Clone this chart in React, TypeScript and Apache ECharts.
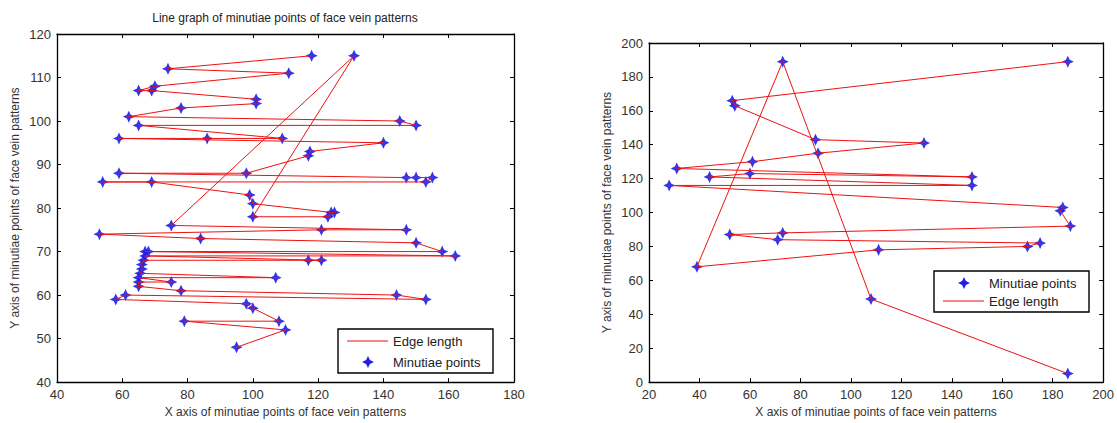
import React, { useEffect, useRef } from "react";
import * as echarts from "echarts";

// Left chart: minutiae points in path order
const leftX = [118, 74, 111, 70, 65, 69, 101, 101, 78, 62, 145, 150, 65, 109, 86, 59, 140, 117.5, 117, 98, 59, 147, 150, 155, 153, 54, 69, 99, 100, 124, 125, 123, 100, 131, 75, 147, 121, 53, 84, 150, 158, 67, 68, 162, 67, 121, 117, 66.5, 66, 66, 65.5, 107, 65, 75, 65, 65, 78, 144, 153, 61, 58, 98, 100, 108, 79, 110, 95];
const leftY = [115, 112, 111, 108, 107, 107, 105, 104, 103, 101, 100, 99, 99, 96, 96, 96, 95, 93, 92, 88, 88, 87, 87, 87, 86, 86, 86, 83, 81, 79, 79, 78, 78, 115, 76, 75, 75, 74, 73, 72, 70, 70, 70, 69, 69, 68, 68, 68, 67, 66, 65, 64, 64, 63, 63, 62, 61, 60, 59, 60, 59, 58, 57, 54, 54, 52, 48];

// Right chart: minutiae points in path order
const rightX = [186, 53, 54, 86, 129, 87, 61, 31, 148, 60, 44, 148, 28, 184, 183, 187, 73, 52, 71, 175, 170, 111, 39, 73, 108, 186];
const rightY = [189, 166, 163, 143, 141, 135, 130, 126, 121, 123, 121, 116, 116, 103, 101, 92, 88, 87, 84, 82, 80, 78, 68, 189, 49, 5];

// Axis ranges [min, max, interval]
const leftXRange = [40, 180, 20];
const leftYRange = [40, 120, 10];
const rightXRange = [20, 200, 20];
const rightYRange = [0, 200, 20];

const titleText = "Line graph of minutiae points of face vein patterns";
const xName = "X axis of minutiae points of face vein patterns";
const yName = "Y axis of minutiae points of face vein patterns";
const lineName = "Edge length";
const pointName = "Minutiae points";

// Legend entry order for each panel
const leftLegend = [lineName, pointName];
const rightLegend = [pointName, lineName];

const FONT = "Arial, 'Liberation Sans', sans-serif";
const RED = "#ee1111";
const BLUE = "#1f1fe6";
const STAR = "path://M0,-10L3.2,-3.2L10,0L3.2,3.2L0,10L-3.2,3.2L-10,0L-3.2,-3.2Z";

function zip(xs: number[], ys: number[]) {
  return xs.map((x, i) => [x, ys[i]]);
}

function starPoints(cx: number, cy: number, r: number) {
  const k = r * 0.32;
  return [
    [cx, cy - r], [cx + k, cy - k], [cx + r, cy], [cx + k, cy + k],
    [cx, cy + r], [cx - k, cy + k], [cx - r, cy], [cx - k, cy - k],
  ];
}

function axis(gridIndex: number, position: string, range: number[], showLabel: boolean, extra: any = {}) {
  return {
    type: "value",
    gridIndex,
    position,
    min: range[0],
    max: range[1],
    interval: range[2],
    axisLine: { show: true, onZero: false, lineStyle: { color: "#000", width: 1.3 } },
    axisTick: { show: true, inside: true, length: 4, lineStyle: { color: "#000", width: 1 } },
    axisLabel: { show: showLabel, color: "#333", fontSize: 13, fontFamily: FONT, margin: 6 },
    splitLine: { show: false },
    ...extra,
  };
}

const nameStyle = { color: "#333", fontSize: 12, fontFamily: FONT };

function legendBox(x: number, y: number, w: number, h: number, names: string[], rowGap: number) {
  const children: any[] = [
    {
      type: "rect",
      shape: { x, y, width: w, height: h },
      style: { fill: "#fff", stroke: "#000", lineWidth: 1.4 },
    },
  ];
  names.forEach((n, i) => {
    const cy = y + 12 + i * rowGap;
    if (n === lineName) {
      children.push({
        type: "line",
        shape: { x1: x + 9, y1: cy, x2: x + 50, y2: cy },
        style: { stroke: RED, lineWidth: 1.2 },
      });
    } else {
      children.push({
        type: "polygon",
        shape: { points: starPoints(x + 30, cy, 6) },
        style: { fill: BLUE },
      });
    }
    children.push({
      type: "text",
      x: x + 55,
      y: cy,
      style: {
        text: n,
        fill: "#222",
        fontSize: 13,
        fontFamily: FONT,
        textAlign: "left",
        textVerticalAlign: "middle",
      },
    });
  });
  return { type: "group", z: 100, children };
}

export default function App() {
  const ref = useRef<HTMLDivElement>(null);
  useEffect(() => {
    if (!ref.current) return;
    const chart = echarts.init(ref.current, undefined, { renderer: "svg" });
    chart.setOption({
      animation: false,
      backgroundColor: "#fff",
      grid: [
        { left: 57, top: 34, width: 457, height: 353, show: false },
        { left: 649, top: 43, width: 458, height: 340, show: false },
      ],
      xAxis: [
        axis(0, "bottom", leftXRange, true, {
          name: xName, nameLocation: "middle", nameGap: 22, nameTextStyle: nameStyle,
        }),
        axis(0, "top", leftXRange, false),
        axis(1, "bottom", rightXRange, true, {
          name: xName, nameLocation: "middle", nameGap: 21, nameTextStyle: nameStyle,
        }),
        axis(1, "top", rightXRange, false),
      ],
      yAxis: [
        axis(0, "left", leftYRange, true, {
          name: yName, nameLocation: "middle", nameGap: 36, nameTextStyle: nameStyle,
        }),
        axis(0, "right", leftYRange, false),
        axis(1, "left", rightYRange, true, {
          name: yName, nameLocation: "middle", nameGap: 36, nameTextStyle: nameStyle,
        }),
        axis(1, "right", rightYRange, false),
      ],
      graphic: [
        {
          type: "text",
          x: 285,
          y: 18,
          style: {
            text: titleText,
            fill: "#222",
            fontSize: 12,
            fontFamily: FONT,
            textAlign: "center",
            textVerticalAlign: "middle",
          },
        },
        legendBox(338, 329, 155, 44, leftLegend, 21),
        legendBox(934, 271, 155, 41, rightLegend, 18),
      ],
      series: [
        {
          name: lineName,
          type: "line",
          xAxisIndex: 0,
          yAxisIndex: 0,
          data: zip(leftX, leftY),
          symbol: "none",
          lineStyle: { color: RED, width: 1 },
          itemStyle: { color: RED },
        },
        {
          name: pointName,
          type: "scatter",
          xAxisIndex: 0,
          yAxisIndex: 0,
          data: zip(leftX, leftY),
          symbol: STAR,
          symbolSize: 12,
          symbolKeepAspect: true,
          itemStyle: { color: BLUE, opacity: 0.9 },
        },
        {
          name: pointName,
          type: "scatter",
          xAxisIndex: 2,
          yAxisIndex: 2,
          data: zip(rightX, rightY),
          symbol: STAR,
          symbolSize: 12,
          symbolKeepAspect: true,
          itemStyle: { color: BLUE, opacity: 0.9 },
        },
        {
          name: lineName,
          type: "line",
          xAxisIndex: 2,
          yAxisIndex: 2,
          data: zip(rightX, rightY),
          symbol: "none",
          lineStyle: { color: RED, width: 1 },
          itemStyle: { color: RED },
        },
      ],
    });
    return () => chart.dispose();
  }, []);
  return (
    <div
      ref={ref}
      style={{ position: "absolute", left: 0, top: 0, width: 1117, height: 423, background: "#fff" }}
    />
  );
}
